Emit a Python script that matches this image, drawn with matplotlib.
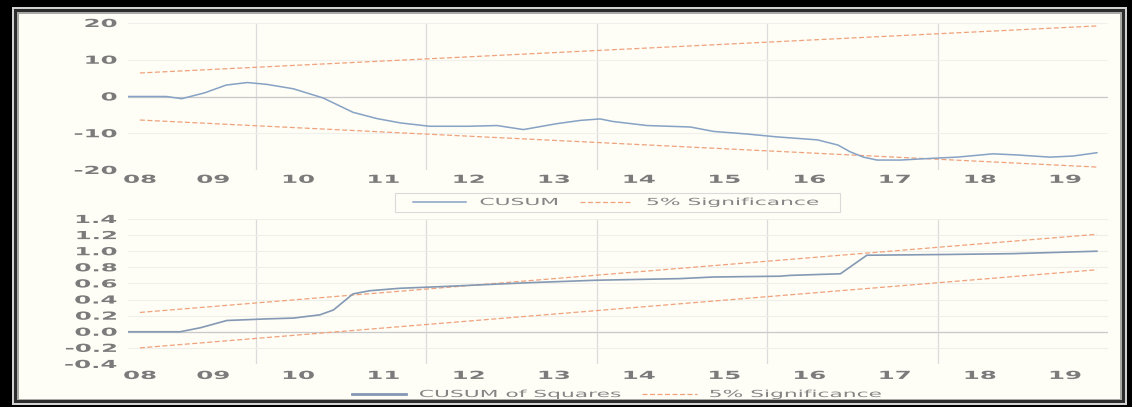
import matplotlib
matplotlib.use("Agg")
import matplotlib.pyplot as plt
from matplotlib.patheffects import AbstractPathEffect
from matplotlib.transforms import Affine2D
from matplotlib.path import Path
from matplotlib.patches import PathPatch, Rectangle

# ---------------- data ----------------
cusum_x = [2008.00, 2008.45, 2008.63, 2008.90, 2009.15, 2009.40, 2009.63, 2009.94,
           2010.29, 2010.64, 2010.92, 2011.20, 2011.54, 2012.00, 2012.33, 2012.64,
           2013.03, 2013.31, 2013.54, 2013.69, 2014.09, 2014.60, 2014.87, 2015.26,
           2015.62, 2016.09, 2016.33, 2016.47, 2016.63, 2016.79, 2017.06, 2017.45,
           2017.73, 2018.15, 2018.43, 2018.82, 2019.09, 2019.37]
cusum_y = [0.0, 0.0, -0.6, 1.0, 3.1, 3.8, 3.3, 2.1,
           -0.4, -4.3, -6.0, -7.2, -8.1, -8.1, -7.9, -9.0,
           -7.4, -6.5, -6.1, -6.8, -7.9, -8.3, -9.5, -10.2,
           -11.0, -11.8, -13.2, -15.0, -16.5, -17.3, -17.3, -16.8,
           -16.5, -15.6, -15.9, -16.5, -16.2, -15.3]
cusum_sig_x = [2008.14, 2019.37]
cusum_upper = [6.4, 19.2]
cusum_lower = [-6.4, -19.2]

cusumsq_x = [2008.00, 2008.61, 2008.85, 2009.16, 2009.63, 2009.94, 2010.25, 2010.41,
             2010.64, 2010.84, 2011.19, 2011.66, 2012.72, 2013.50, 2014.48, 2014.87,
             2015.65, 2015.77, 2016.36, 2016.67, 2017.65, 2018.39, 2019.37]
cusumsq_y = [0.00, 0.00, 0.05, 0.14, 0.16, 0.17, 0.21, 0.27,
             0.47, 0.51, 0.54, 0.56, 0.61, 0.64, 0.66, 0.68,
             0.69, 0.70, 0.72, 0.95, 0.96, 0.97, 1.00]
sq_sig_x = [2008.14, 2019.37]
sq_upper = [0.24, 1.21]
sq_lower = [-0.20, 0.77]

year_ticks = [2008.14, 2009, 2010, 2011, 2012, 2013, 2014, 2015, 2016, 2017, 2018, 2019]
year_labels = ["08", "09", "10", "11", "12", "13", "14", "15", "16", "17", "18", "19"]
vgrid_years = [2009.5, 2011.5, 2013.5, 2015.5, 2017.5]
top_yticks = [-20, -10, 0, 10, 20]
top_ylabels = ["-20", "-10", "0", "10", "20"]
bot_yticks = [-0.4, -0.2, 0.0, 0.2, 0.4, 0.6, 0.8, 1.0, 1.2, 1.4]
bot_ylabels = ["-0.4", "-0.2", "0.0", "0.2", "0.4", "0.6", "0.8", "1.0", "1.2", "1.4"]

# ---------------- style ----------------
W, H = 1132, 407
CREAM = "#fefdf6"
BLUE = "#86a2c4"
BLUE2 = "#8499b3"
ORANGE = "#f0a27c"
TICKC = "#7b7b7b"
LEGC = "#858585"


class Stretch(AbstractPathEffect):
    """Draw text glyphs stretched horizontally (text stays a Text artist)."""
    def __init__(self, sx=2.2, anchor=0.5):
        super().__init__()
        self.sx = sx
        self.anchor = anchor

    def draw_path(self, renderer, gc, tpath, affine, rgbFace=None):
        ext = tpath.get_extents()
        cx = ext.x0 + self.anchor * (ext.x1 - ext.x0)
        t = Affine2D().translate(-cx, 0).scale(self.sx, 1).translate(cx, 0) + affine
        renderer.draw_path(gc, tpath, t, rgbFace)


fig = plt.figure(figsize=(W / 100, H / 100), dpi=100)
fig.patch.set_facecolor(CREAM)
pix = Affine2D().scale(1 / W, -1 / H).translate(0, 1) + fig.transFigure


def axes_px(l, t, r, b):
    return fig.add_axes([l / W, 1 - b / H, (r - l) / W, (b - t) / H])


def style(ax, yticks, ylabels, ylim, xpad):
    ax.set_facecolor("none")
    for s in ax.spines.values():
        s.set_visible(False)
    ax.set_xlim(2008.0, 2019.5)
    ax.set_ylim(*ylim)
    ax.set_xticks(year_ticks)
    ax.set_xticklabels(year_labels)
    ax.set_yticks(yticks)
    ax.set_yticklabels(ylabels)
    ax.tick_params(axis="both", length=0, colors=TICKC, labelsize=8)
    ax.tick_params(axis="y", pad=8)
    ax.tick_params(axis="x", pad=xpad)
    for t in ax.get_xticklabels():
        t.set_fontweight("bold")
        t.set_path_effects([Stretch(2.2, 0.5)])
    for t in ax.get_yticklabels():
        t.set_fontweight("bold")
        t.set_path_effects([Stretch(2.2, 1.0)])
    for v in vgrid_years:
        ax.axvline(v, color="#dcdcdc", lw=0.9, zorder=0)


# ---------------- top: CUSUM ----------------
ax1 = axes_px(128, 23, 1108, 170)
style(ax1, top_yticks, top_ylabels, (-20, 20), 3.5)
for v in top_yticks:
    ax1.axhline(v, color="#f0f0ec", lw=0.8, zorder=0)
ax1.axhline(0, color="#c9c9c9", lw=0.9, zorder=0.5)
l_cusum, = ax1.plot(cusum_x, cusum_y, color=BLUE, lw=1.1, zorder=3)
l_sig1, = ax1.plot(cusum_sig_x, cusum_upper, color=ORANGE, lw=0.9,
                   dashes=(4, 2), zorder=2)
ax1.plot(cusum_sig_x, cusum_lower, color=ORANGE, lw=0.9, dashes=(4, 2), zorder=2)

leg1 = ax1.legend([l_cusum, l_sig1], ["CUSUM", "5% Significance"], ncol=2,
                  loc="center left", bbox_to_anchor=(413 / W, 1 - 202 / H),
                  bbox_transform=fig.transFigure, frameon=False, fontsize=7,
                  handlelength=5.4, handletextpad=1.5, columnspacing=6.6,
                  borderpad=0, borderaxespad=0, labelcolor=LEGC)
for t in leg1.get_texts():
    t.set_path_effects([Stretch(2.24, 0.0)])
ax1.add_patch(Rectangle((395, 193), 445, 19, transform=pix, fill=False,
                        edgecolor="#dadada", lw=0.8, clip_on=False, zorder=1))

# ---------------- bottom: CUSUM of Squares ----------------
ax2 = axes_px(128, 219, 1108, 364)
style(ax2, bot_yticks, bot_ylabels, (-0.4, 1.4), 5.0)
for v in bot_yticks:
    ax2.axhline(v, color="#efefea", lw=0.8, zorder=0)
ax2.axhline(0, color="#c9c9c9", lw=0.9, zorder=0.5)
l_sq, = ax2.plot(cusumsq_x, cusumsq_y, color=BLUE2, lw=1.2, zorder=3)
l_sig2, = ax2.plot(sq_sig_x, sq_upper, color=ORANGE, lw=0.9, dashes=(4, 2), zorder=2)
ax2.plot(sq_sig_x, sq_lower, color=ORANGE, lw=0.9, dashes=(4, 2), zorder=2)

leg2 = ax2.legend([l_sq, l_sig2], ["CUSUM of Squares", "5% Significance"], ncol=2,
                  loc="center left", bbox_to_anchor=(352 / W, 1 - 394 / H),
                  bbox_transform=fig.transFigure, frameon=False, fontsize=7,
                  handlelength=5.6, handletextpad=1.34, columnspacing=13.6,
                  borderpad=0, borderaxespad=0, labelcolor=LEGC)
leg2.get_lines()[0].set_linewidth(2.0)
for t in leg2.get_texts():
    t.set_path_effects([Stretch(2.24, 0.0)])

# ---------------- picture frame (drawn on top) ----------------
ov = fig.add_axes([0, 0, 1, 1], zorder=20)
ov.set_xlim(0, W)
ov.set_ylim(H, 0)
ov.axis("off")
ov.set_facecolor("none")


def ring(outer, inner, color):
    x0, y0, x1, y1 = outer
    a0, b0, a1, b1 = inner
    verts = [(x0, y0), (x1, y0), (x1, y1), (x0, y1), (x0, y0),
             (a0, b0), (a0, b1), (a1, b1), (a1, b0), (a0, b0)]
    codes = [Path.MOVETO, Path.LINETO, Path.LINETO, Path.LINETO, Path.CLOSEPOLY] * 2
    ov.add_patch(PathPatch(Path(verts, codes), facecolor=color, edgecolor="none"))


ring((-5, -5, W + 5, H + 5), (12, 7, 1127, 405), "#000000")
ring((12, 7, 1127, 405), (14, 9, 1125, 403), "#d2d2d2")
ring((14, 9, 1125, 403), (17, 12, 1122, 400), "#2c2c2c")
ring((17, 12, 1122, 400), (19, 14, 1120, 399), "#a9a9a6")

fig.savefig("out.png", dpi=100, facecolor=fig.get_facecolor())
